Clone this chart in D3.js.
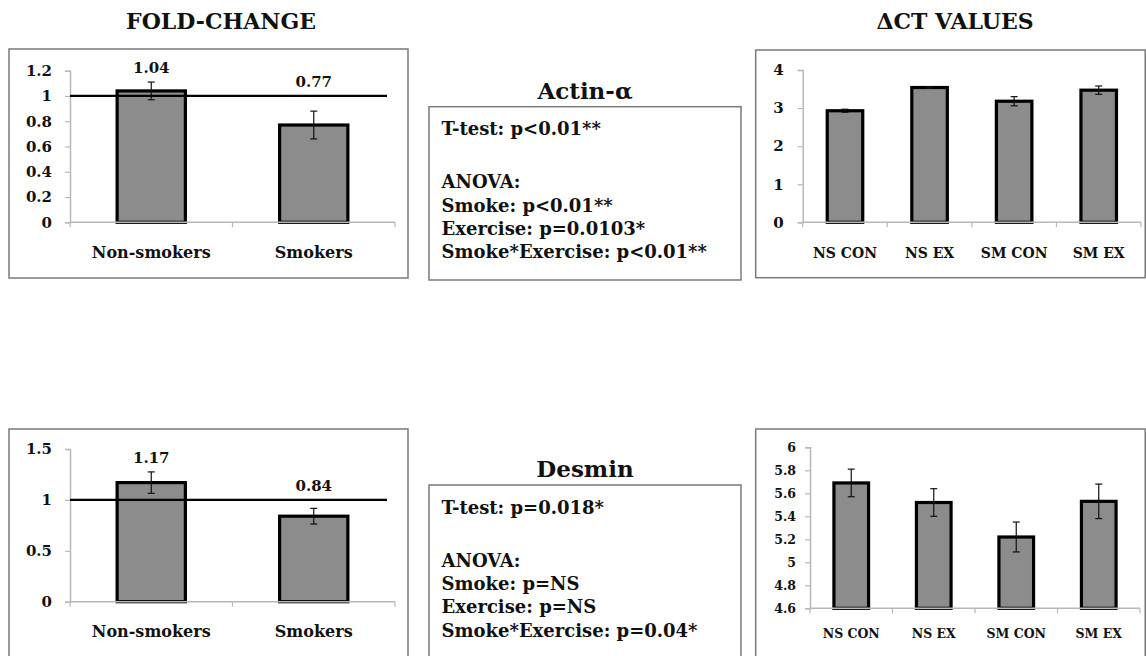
<!DOCTYPE html>
<html>
<head>
<meta charset="utf-8">
<script src="https://cdn.jsdelivr.net/npm/d3@7"></script>
<style>
  html, body { margin: 0; padding: 0; background: #fff; }
  svg { display: block; }
  text { font-family: "DejaVu Serif", "Liberation Serif", serif; font-weight: bold; fill: #111; }
</style>
</head>
<body>
<svg id="chart" width="1146" height="656"></svg>
<script>
// ---------------- DATA ----------------
const foldCategories = ["Non-smokers", "Smokers"];
const ctCategories = ["NS CON", "NS EX", "SM CON", "SM EX"];

const actinFold = [1.04, 0.77];
const actinFoldErr = [0.07, 0.11];
const desminFold = [1.17, 0.84];
const desminFoldErr = [0.105, 0.077];

const actinCt = [2.93, 3.54, 3.18, 3.47];
const actinCtErr = [0.04, 0.02, 0.12, 0.11];
const desminCt = [5.69, 5.52, 5.22, 5.53];
const desminCtErr = [0.12, 0.12, 0.13, 0.15];

const actinFoldTicks = [0, 0.2, 0.4, 0.6, 0.8, 1, 1.2];
const desminFoldTicks = [0, 0.5, 1, 1.5];
const actinCtTicks = [0, 1, 2, 3, 4];
const desminCtTicks = [4.6, 4.8, 5, 5.2, 5.4, 5.6, 5.8, 6];

const referenceLevel = 1;

const headers = ["FOLD-CHANGE", "\u0394CT VALUES"];
const geneNames = ["Actin-\u03B1", "Desmin"];
const actinTTest = "T-test: p<0.01**";
const actinAnova = ["ANOVA:", "Smoke: p<0.01**", "Exercise: p=0.0103*", "Smoke*Exercise: p<0.01**"];
const desminTTest = "T-test: p=0.018*";
const desminAnova = ["ANOVA:", "Smoke: p=NS", "Exercise: p=NS", "Smoke*Exercise: p=0.04*"];

// ---------------- DRAWING ----------------
const svg = d3.select("#chart");
const BAR_FILL = "#8c8c8c";
const AXIS_COLOR = "#b8b8b8";
const BOX_COLOR = "#7a7a7a";

function panelBox(x, y, w, h) {
  svg.append("rect").attr("x", x).attr("y", y).attr("width", w).attr("height", h)
    .attr("fill", "none").attr("stroke", BOX_COLOR).attr("stroke-width", 1.5);
}

function barChart(opt) {
  const g = svg.append("g");
  const x = d3.scaleBand().domain(opt.categories).range([opt.x0, opt.x1])
    .paddingInner(0.58).paddingOuter(0.29);
  const y = d3.scaleLinear().domain([opt.ticks[0], opt.ticks[opt.ticks.length - 1]])
    .range([opt.y0, opt.yTop]);

  // y axis
  const yAxis = d3.axisLeft(y).tickValues(opt.ticks).tickSize(5).tickPadding(opt.yPad)
    .tickFormat(d => String(d));
  const ya = g.append("g").attr("transform", `translate(${opt.x0},0)`).call(yAxis);
  ya.select(".domain").attr("stroke", AXIS_COLOR).attr("stroke-width", 1.5);
  ya.selectAll(".tick line").attr("stroke", AXIS_COLOR).attr("stroke-width", 1.2);
  ya.selectAll(".tick text").attr("font-size", opt.yFont).attr("font-family", null).attr("fill", "#111");

  // bars
  const data = opt.categories.map((c, i) => ({ c, v: opt.values[i], e: opt.errors[i] }));
  g.selectAll("rect.bar").data(data).join("rect").attr("class", "bar")
    .attr("x", d => x(d.c)).attr("width", x.bandwidth())
    .attr("y", d => y(d.v)).attr("height", d => y(opt.ticks[0]) - y(d.v))
    .attr("fill", BAR_FILL).attr("stroke", "#000").attr("stroke-width", 3.2);

  // x axis (line + boundary ticks + labels)
  const xa = g.append("g").attr("transform", `translate(0,${opt.y0})`);
  xa.append("line").attr("x1", opt.x0).attr("x2", opt.x1).attr("y1", 0).attr("y2", 0)
    .attr("stroke", AXIS_COLOR).attr("stroke-width", 1.5);
  const bounds = d3.range(opt.categories.length + 1).map(i => opt.x0 + i * x.step());
  xa.selectAll("line.bt").data(bounds).join("line").attr("class", "bt")
    .attr("x1", d => d).attr("x2", d => d).attr("y1", 0).attr("y2", 5)
    .attr("stroke", AXIS_COLOR).attr("stroke-width", 1.2);
  xa.selectAll("text.xl").data(opt.categories).join("text").attr("class", "xl")
    .attr("x", d => x(d) + x.bandwidth() / 2).attr("y", opt.xLabelDy)
    .attr("text-anchor", "middle").attr("font-size", opt.xFont).text(d => d);

  // error bars
  const cap = 3.5;
  const eb = g.selectAll("g.eb").data(data).join("g").attr("class", "eb");
  eb.append("line").attr("x1", d => x(d.c) + x.bandwidth() / 2).attr("x2", d => x(d.c) + x.bandwidth() / 2)
    .attr("y1", d => y(d.v + d.e)).attr("y2", d => y(d.v - d.e));
  eb.append("line").attr("x1", d => x(d.c) + x.bandwidth() / 2 - cap).attr("x2", d => x(d.c) + x.bandwidth() / 2 + cap)
    .attr("y1", d => y(d.v + d.e)).attr("y2", d => y(d.v + d.e));
  eb.append("line").attr("x1", d => x(d.c) + x.bandwidth() / 2 - cap).attr("x2", d => x(d.c) + x.bandwidth() / 2 + cap)
    .attr("y1", d => y(d.v - d.e)).attr("y2", d => y(d.v - d.e));
  eb.selectAll("line").attr("stroke", "#111").attr("stroke-width", 1.2);

  if (opt.reference) {
    g.append("line").attr("x1", opt.x0).attr("x2", opt.x1 - 8)
      .attr("y1", y(referenceLevel)).attr("y2", y(referenceLevel))
      .attr("stroke", "#000").attr("stroke-width", 2.2);
    g.selectAll("text.vl").data(data).join("text").attr("class", "vl")
      .attr("x", d => x(d.c) + x.bandwidth() / 2)
      .attr("y", d => y(Math.max(d.v + d.e, referenceLevel)) - 9)
      .attr("text-anchor", "middle").attr("font-size", 15)
      .text(d => d3.format(".2f")(d.v));
  }
}

function statsBox(bx, by, bh, title, tTest, anova) {
  svg.append("text").attr("x", 585).attr("y", by - 8).attr("text-anchor", "middle")
    .attr("font-size", 23).text(title);
  panelBox(bx, by, 312, bh);
  svg.append("text").attr("x", bx + 12.5).attr("y", by + 28.5).attr("font-size", 18).text(tTest);
  svg.selectAll(null).data(anova).join("text")
    .attr("x", bx + 12.5).attr("y", (d, i) => by + 81.7 + i * 23.3)
    .attr("font-size", 18).text(d => d);
}

// headers
svg.append("text").attr("x", 221).attr("y", 29).attr("text-anchor", "middle").attr("font-size", 22).text(headers[0]);
svg.append("text").attr("x", 955).attr("y", 29).attr("text-anchor", "middle").attr("font-size", 22).text(headers[1]);

// panel frames
panelBox(9, 49, 399, 229);
panelBox(755.7, 50, 389.5, 227.7);
panelBox(9, 429, 399, 240);
panelBox(755.7, 429, 389.5, 240);

// Actin fold change
barChart({ categories: foldCategories, values: actinFold, errors: actinFoldErr, ticks: actinFoldTicks,
  x0: 70, x1: 395, y0: 222.3, yTop: 70.7, yFont: 15, xFont: 16, yPad: 13, xLabelDy: 36, reference: true });
// Desmin fold change
barChart({ categories: foldCategories, values: desminFold, errors: desminFoldErr, ticks: desminFoldTicks,
  x0: 70, x1: 395, y0: 601.7, yTop: 449, yFont: 15, xFont: 16, yPad: 13, xLabelDy: 35, reference: true });
// Actin ΔCT
barChart({ categories: ctCategories, values: actinCt, errors: actinCtErr, ticks: actinCtTicks,
  x0: 802.7, x1: 1141, y0: 222.3, yTop: 70, yFont: 15, xFont: 14, yPad: 14, xLabelDy: 36, reference: false });
// Desmin ΔCT
barChart({ categories: ctCategories, values: desminCt, errors: desminCtErr, ticks: desminCtTicks,
  x0: 810, x1: 1140, y0: 608.3, yTop: 447.3, yFont: 12.5, xFont: 12.5, yPad: 9, xLabelDy: 30, reference: false });

// stats boxes
statsBox(429, 106.7, 173.3, geneNames[0], actinTTest, actinAnova);
statsBox(429, 485, 240, geneNames[1], desminTTest, desminAnova);
</script>
</body>
</html>
